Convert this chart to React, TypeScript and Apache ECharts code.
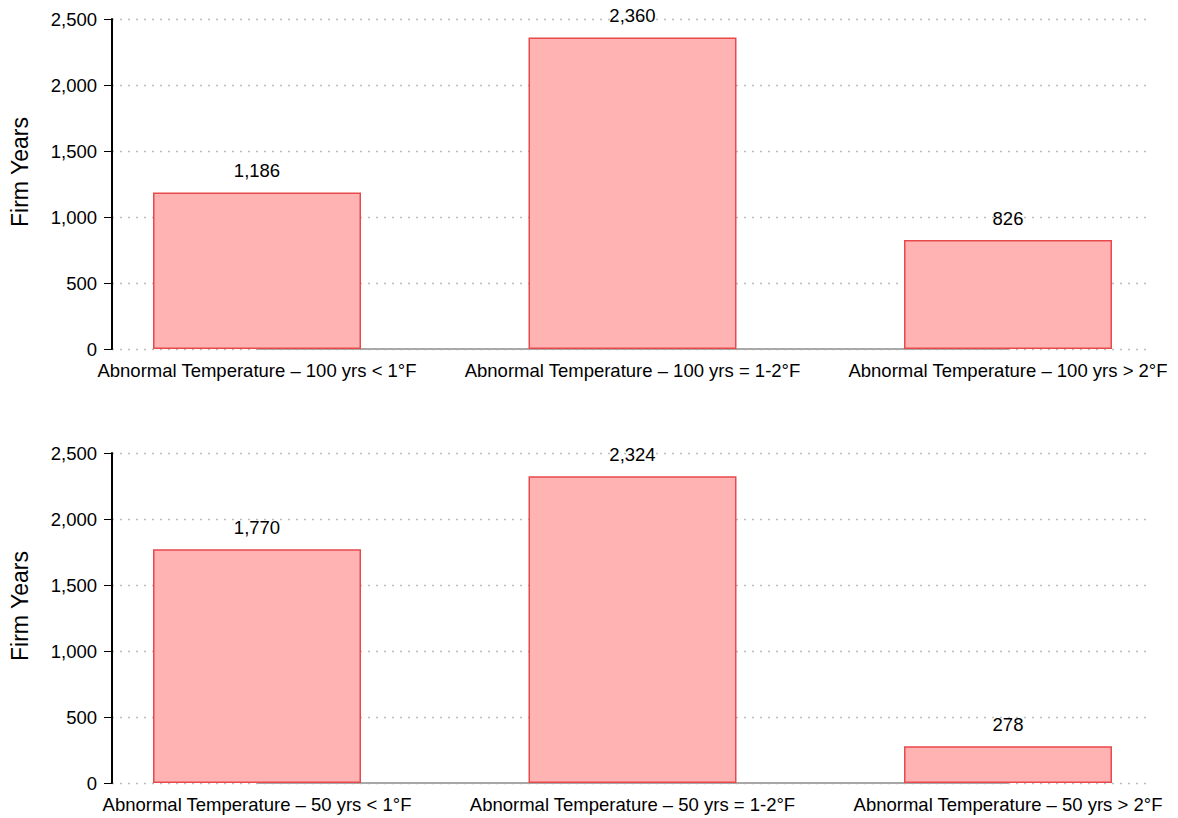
import React, { useEffect, useRef } from "react";
import * as echarts from "echarts";

const categoriesTop = [
  "Abnormal Temperature – 100 yrs < 1°F",
  "Abnormal Temperature – 100 yrs = 1-2°F",
  "Abnormal Temperature – 100 yrs > 2°F",
];
const valuesTop = [1186, 2360, 826];

const categoriesBottom = [
  "Abnormal Temperature – 50 yrs < 1°F",
  "Abnormal Temperature – 50 yrs = 1-2°F",
  "Abnormal Temperature – 50 yrs > 2°F",
];
const valuesBottom = [1770, 2324, 278];

const baseline = [0, 0, 0];
const yMin = 0;
const yMax = 2500;
const yInterval = 500;
const yTitle = "Firm Years";

const FONT = "'Liberation Sans', Arial, sans-serif";
const fmt = (v: number) => v.toLocaleString("en-US");

export default function App() {
  const ref = useRef<HTMLDivElement>(null);
  useEffect(() => {
    if (!ref.current) return;
    const chart = echarts.init(ref.current, null, { renderer: "svg" });
    const tops = [19, 453];
    const h = 330;
    const axisGrids = tops.map((t) => ({ left: 112, right: 26, top: t, height: h }));
    const barGrids = tops.map((t) => ({ left: 257, right: 170, top: t, height: h }));
    const grid = [axisGrids[0], barGrids[0], axisGrids[1], barGrids[1]];
    const cats = [categoriesTop, categoriesBottom];
    const vals = [valuesTop, valuesBottom];

    const xAxis: any[] = [];
    const yAxis: any[] = [];
    const series: any[] = [];
    for (let i = 0; i < 2; i++) {
      xAxis.push({ type: "value", gridIndex: i * 2, show: false, min: 0, max: 1 });
      xAxis.push({
        type: "category",
        gridIndex: i * 2 + 1,
        data: cats[i],
        boundaryGap: false,
        axisLine: { show: false },
        axisTick: { show: false },
        axisLabel: { color: "#000", fontSize: 18.5, fontFamily: FONT, margin: 12, interval: 0 },
      });
      yAxis.push({
        type: "value",
        gridIndex: i * 2,
        min: yMin,
        max: yMax,
        interval: yInterval,
        axisLine: { show: true, lineStyle: { color: "#000", width: 2 } },
        axisTick: { show: true, length: 8, lineStyle: { color: "#000", width: 1 } },
        axisLabel: { color: "#000", fontSize: 18.5, fontFamily: FONT, margin: 15, formatter: (v: number) => fmt(v) },
        splitLine: { show: true, lineStyle: { color: "#bdbdbd", type: [2, 6], width: 1.3 } },
      });
      yAxis.push({ type: "value", gridIndex: i * 2 + 1, min: yMin, max: yMax, interval: yInterval, show: false, splitLine: { show: false } });
      series.push({
        type: "line",
        xAxisIndex: i * 2 + 1,
        yAxisIndex: i * 2 + 1,
        data: baseline,
        symbol: "none",
        clip: false,
        lineStyle: { color: "#a8a8a8", width: 2 },
        z: 1,
        silent: true,
      });
      series.push({
        type: "bar",
        xAxisIndex: i * 2 + 1,
        yAxisIndex: i * 2 + 1,
        data: vals[i],
        barWidth: 208,
        clip: false,
        z: 2,
        itemStyle: { color: "#ffb3b3", borderColor: "#e84a4c", borderWidth: 1.5 },
        label: {
          show: true,
          position: "top",
          distance: 12,
          color: "#000",
          fontSize: 18.5,
          fontFamily: FONT,
          formatter: (p: any) => fmt(p.value),
        },
      });
    }

    chart.setOption({
      animation: false,
      backgroundColor: "#fff",
      grid,
      xAxis,
      yAxis,
      series,
      graphic: tops.map((t) => ({
        type: "text",
        x: 20,
        y: t + 153,
        rotation: Math.PI / 2,
        style: {
          text: yTitle,
          fontSize: 23,
          fontFamily: FONT,
          fill: "#000",
          textAlign: "center",
          textVerticalAlign: "middle",
        },
      })),
    });
    return () => chart.dispose();
  }, []);
  return (
    <div
      ref={ref}
      style={{ position: "fixed", left: 0, top: 0, width: 1178, height: 818, background: "#fff" }}
    />
  );
}
